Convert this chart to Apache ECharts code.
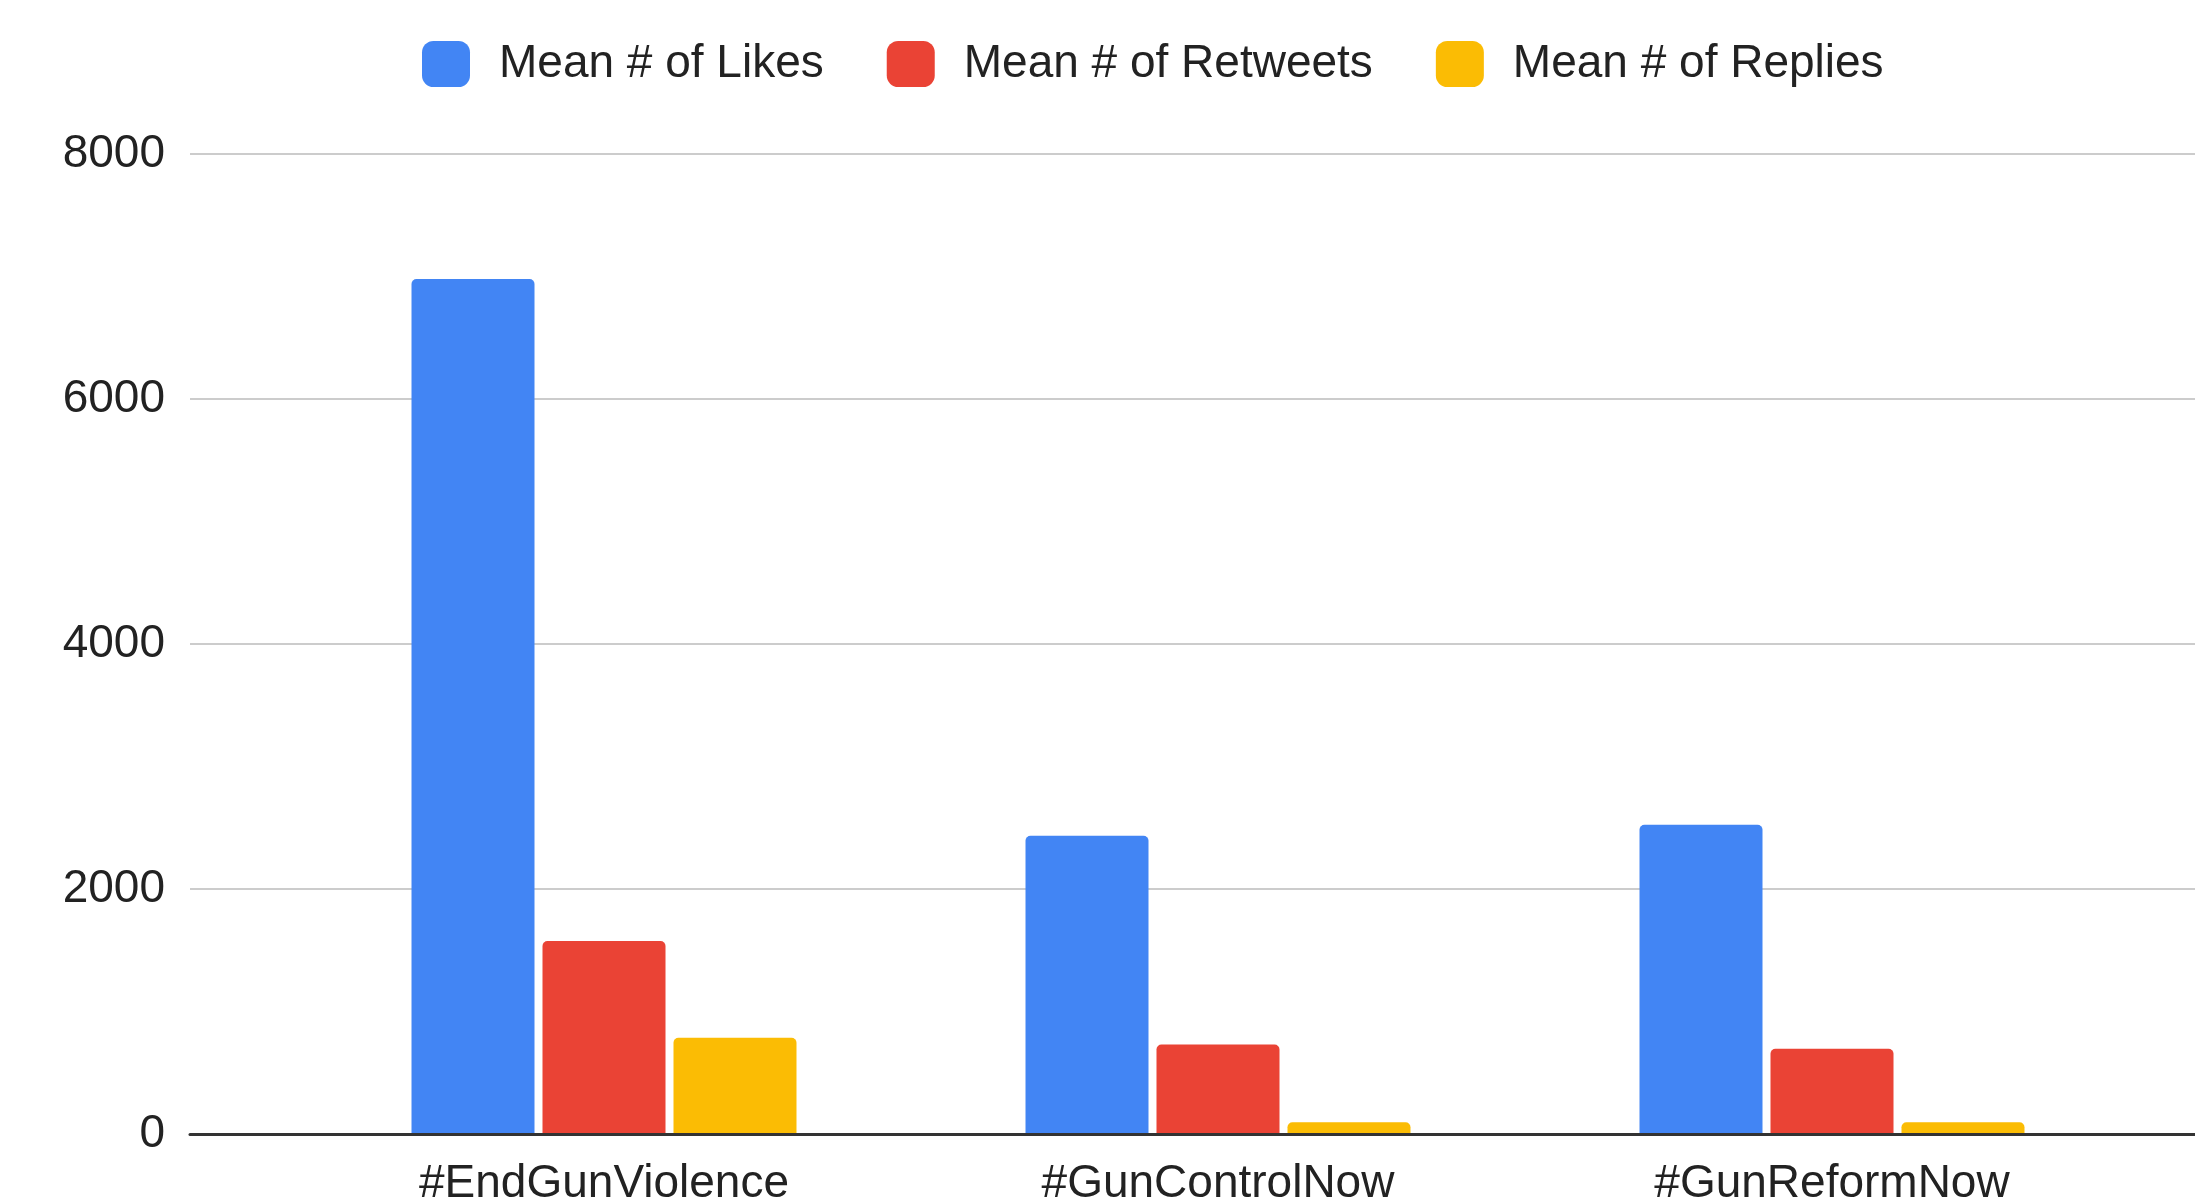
<!DOCTYPE html>
<html>
<head>
<meta charset="utf-8">
<script src="https://cdn.jsdelivr.net/npm/echarts@6/dist/echarts.min.js"></script>
<style>
  html, body { margin: 0; padding: 0; background: #fff; }
  #chart { width: 2195px; height: 1201px; }
</style>
</head>
<body>
<div id="chart"></div>
<script>
// 数据
const categories = ['#EndGunViolence', '#GunControlNow', '#GunReformNow']
const seriesNames = ['Mean # of Likes', 'Mean # of Retweets', 'Mean # of Replies']
const likes = [6980, 2435, 2525]
const retweets = [1575, 730, 695]
const replies = [785, 95, 95]
const yTicks = [0, 2000, 4000, 6000, 8000]

const colors = ['#4285F4', '#EA4335', '#FBBC04']
const font = "'Liberation Sans', Arial, sans-serif"

const chart = echarts.init(document.getElementById('chart'))

const makeBar = (name, values, color) => ({
  name: name,
  type: 'bar',
  xAxisIndex: 1,
  yAxisIndex: 1,
  barWidth: 123,
  barGap: '6.5%',
  itemStyle: { color: color, borderRadius: [5, 5, 0, 0] },
  data: values
})

const option = {
  animation: false,
  backgroundColor: '#fff',
  color: colors,
  legend: {
    data: seriesNames,
    left: 417,
    top: 36,
    itemWidth: 48,
    itemHeight: 46,
    itemGap: 63,
    icon: 'roundRect',
    textStyle: {
      fontFamily: font,
      fontSize: 46,
      color: '#222',
      padding: [0, 0, 0, 24]
    }
  },
  grid: [
    // 背景网格线
    { left: 190, right: 0, top: 154, bottom: 67, outerBoundsMode: 'none' },
    // 柱子
    { left: 297, right: 56, top: 154, bottom: 67, outerBoundsMode: 'none' }
  ],
  xAxis: [
    {
      type: 'category',
      gridIndex: 0,
      data: categories,
      axisLine: { show: true, lineStyle: { color: '#333', width: 3 } },
      axisTick: { show: false },
      axisLabel: { show: false },
      z: 5
    },
    {
      type: 'category',
      gridIndex: 1,
      data: categories,
      axisLine: { show: false },
      axisTick: { show: false },
      axisLabel: {
        fontFamily: font,
        fontSize: 46,
        color: '#222',
        margin: 27
      }
    }
  ],
  yAxis: [
    {
      type: 'value',
      gridIndex: 0,
      min: yTicks[0],
      max: yTicks[yTicks.length - 1],
      interval: yTicks[1] - yTicks[0],
      axisLine: { show: false },
      axisTick: { show: false },
      axisLabel: {
        fontFamily: font,
        fontSize: 46,
        color: '#222',
        margin: 25,
        formatter: v => String(v)
      },
      splitLine: { lineStyle: { color: '#cccccc', width: 2 } }
    },
    {
      type: 'value',
      gridIndex: 1,
      min: yTicks[0],
      max: yTicks[yTicks.length - 1],
      interval: yTicks[1] - yTicks[0],
      show: false,
      splitLine: { show: false }
    }
  ],
  series: [
    makeBar(seriesNames[0], likes, colors[0]),
    makeBar(seriesNames[1], retweets, colors[1]),
    makeBar(seriesNames[2], replies, colors[2])
  ]
}

chart.setOption(option)
</script>
</body>
</html>
